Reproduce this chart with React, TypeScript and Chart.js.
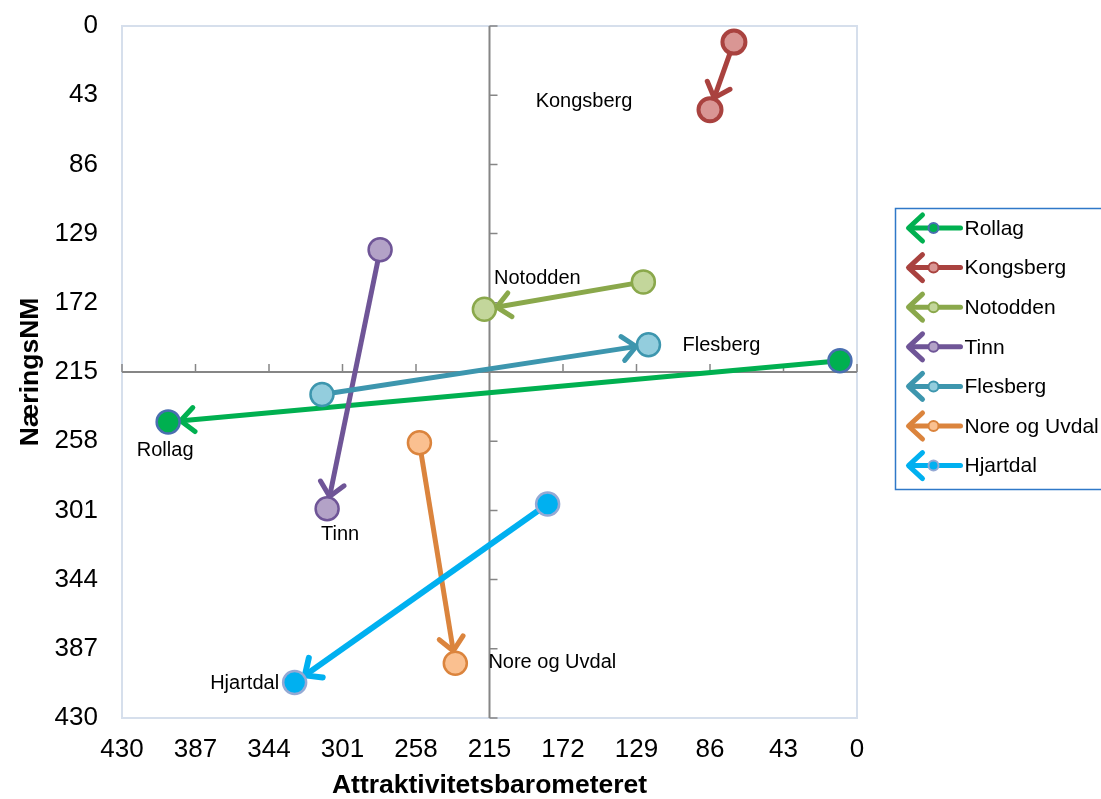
import React, { useEffect, useRef } from 'react';
import { Chart, registerables } from 'chart.js';

Chart.register(...registerables);

// ---- data ----
const municipalities = ['Rollag', 'Kongsberg', 'Notodden', 'Tinn', 'Flesberg', 'Nore og Uvdal', 'Hjartdal'];
const startX = [10, 72, 125, 279, 313, 256, 181];
const startY = [208, 10, 159, 139, 229, 259, 297];
const endX = [403, 86, 218, 310, 122, 235, 329];
const endY = [246, 52, 176, 300, 198, 396, 408];
const tickValues = [0, 43, 86, 129, 172, 215, 258, 301, 344, 387, 430];
const axisMin = 0;
const axisMax = 430;
const axisMid = 215;
const xTitle = 'Attraktivitetsbarometeret';
const yTitle = 'NæringsNM';

// ---- styles ----
const lineColors = ['#00B050', '#A9423F', '#8AA84B', '#6F5597', '#3D96AE', '#DB843D', '#00B0F0'];
const markerFills = ['#00B050', '#D99694', '#C3D69B', '#B3A2C7', '#93CDDD', '#FAC090', '#00B0F0'];
const markerBorders = ['#4A6FB0', '#A9423F', '#8AA84B', '#6F5597', '#3D96AE', '#DB843D', '#95A9D4'];
const markerBorderWidths = [2.5, 4, 2.5, 2.5, 2.5, 2.5, 2.5];
const lineWidths = [5, 5, 5, 5, 5, 5, 6];
const labelOffsets = [[-3, 29], [-126, -8], [53, -31], [13, 26], [73, 1], [97, -1], [-50, 1]];
const FONT = '"Liberation Sans", Arial, Helvetica, sans-serif';

const frameAndAxesPlugin = {
  id: 'frameAndAxes',
  beforeDatasetsDraw(chart: any) {
    const { ctx, chartArea } = chart;
    const xs = chart.scales.x;
    const ys = chart.scales.y;
    ctx.save();
    ctx.strokeStyle = '#D6DFEC';
    ctx.lineWidth = 2;
    ctx.strokeRect(chartArea.left, chartArea.top, chartArea.right - chartArea.left, chartArea.bottom - chartArea.top);
    const cx = xs.getPixelForValue(axisMid);
    const cy = ys.getPixelForValue(axisMid);
    ctx.strokeStyle = '#868686';
    ctx.lineWidth = 2;
    ctx.beginPath();
    ctx.moveTo(cx, chartArea.top);
    ctx.lineTo(cx, chartArea.bottom);
    ctx.moveTo(chartArea.left, cy);
    ctx.lineTo(chartArea.right, cy);
    ctx.stroke();
    ctx.lineWidth = 1.5;
    ctx.beginPath();
    tickValues.forEach((v) => {
      const py = ys.getPixelForValue(v);
      ctx.moveTo(cx, py);
      ctx.lineTo(cx + 8, py);
      const px = xs.getPixelForValue(v);
      ctx.moveTo(px, cy);
      ctx.lineTo(px, cy - 8);
    });
    ctx.stroke();
    ctx.restore();
  },
};

const arrowPlugin = {
  id: 'arrowheads',
  beforeDatasetDraw(chart: any, args: any) {
    const i = args.index;
    const meta = args.meta;
    const p0 = meta.data[0];
    const p1 = meta.data[1];
    if (!p0 || !p1) return;
    const ctx = chart.ctx;
    const dx = p1.x - p0.x;
    const dy = p1.y - p0.y;
    const len = Math.hypot(dx, dy) || 1;
    const ux = dx / len;
    const uy = dy / len;
    const r = 12.5;
    const tx = p1.x - ux * r;
    const ty = p1.y - uy * r;
    const L = 18;
    const ang = (42 * Math.PI) / 180;
    const bx = -ux;
    const by = -uy;
    const rot = (a: number) => [bx * Math.cos(a) - by * Math.sin(a), bx * Math.sin(a) + by * Math.cos(a)];
    const a1 = rot(ang);
    const a2 = rot(-ang);
    ctx.save();
    ctx.strokeStyle = lineColors[i];
    ctx.lineWidth = lineWidths[i];
    ctx.lineCap = 'round';
    ctx.lineJoin = 'round';
    ctx.beginPath();
    ctx.moveTo(tx + a1[0] * L, ty + a1[1] * L);
    ctx.lineTo(tx, ty);
    ctx.lineTo(tx + a2[0] * L, ty + a2[1] * L);
    ctx.stroke();
    ctx.restore();
  },
};

const labelsAndLegendPlugin = {
  id: 'labelsAndLegend',
  afterDatasetsDraw(chart: any) {
    const ctx = chart.ctx;
    ctx.save();
    ctx.font = `20px ${FONT}`;
    ctx.fillStyle = '#000000';
    ctx.textAlign = 'center';
    ctx.textBaseline = 'middle';
    municipalities.forEach((name, i) => {
      const meta = chart.getDatasetMeta(i);
      const p1 = meta.data[1];
      if (!p1) return;
      ctx.fillText(name, p1.x + labelOffsets[i][0], p1.y + labelOffsets[i][1]);
    });
    ctx.restore();
  },
  afterDraw(chart: any) {
    const ctx = chart.ctx;
    const area = chart.chartArea;
    const boxLeft = area.right + 38.5;
    const boxTop = 208.5;
    ctx.save();
    ctx.strokeStyle = '#2F78C8';
    ctx.lineWidth = 1.5;
    ctx.strokeRect(boxLeft, boxTop, 240, 281);
    const rowStart = 228;
    const rowStep = 39.6;
    municipalities.forEach((name, i) => {
      const y = rowStart + i * rowStep;
      const tipX = boxLeft + 13;
      ctx.strokeStyle = lineColors[i];
      ctx.lineWidth = 5;
      ctx.lineCap = 'round';
      ctx.lineJoin = 'round';
      ctx.beginPath();
      ctx.moveTo(tipX + 4, y);
      ctx.lineTo(tipX + 52, y);
      ctx.stroke();
      ctx.beginPath();
      ctx.moveTo(tipX + 14, y - 13);
      ctx.lineTo(tipX, y);
      ctx.lineTo(tipX + 14, y + 13);
      ctx.stroke();
      ctx.beginPath();
      ctx.arc(tipX + 25, y, 5, 0, Math.PI * 2);
      ctx.fillStyle = markerFills[i];
      ctx.fill();
      ctx.lineWidth = 2;
      ctx.strokeStyle = markerBorders[i];
      ctx.stroke();
      ctx.fillStyle = '#000000';
      ctx.font = `21px ${FONT}`;
      ctx.textAlign = 'left';
      ctx.textBaseline = 'middle';
      ctx.fillText(name, tipX + 56, y + 1);
    });
    ctx.restore();
  },
};

export default function App() {
  const canvasRef = useRef<HTMLCanvasElement | null>(null);

  useEffect(() => {
    if (!canvasRef.current) return;
    const datasets = municipalities.map((name, i) => ({
      label: name,
      data: [
        { x: startX[i], y: startY[i] },
        { x: endX[i], y: endY[i] },
      ],
      showLine: true,
      borderColor: lineColors[i],
      borderWidth: lineWidths[i],
      backgroundColor: markerFills[i],
      pointBackgroundColor: markerFills[i],
      pointBorderColor: markerBorders[i],
      pointBorderWidth: markerBorderWidths[i],
      pointRadius: 11.5,
      pointHoverRadius: 11.5,
      order: municipalities.length - i,
    }));

    const tickFont = { family: FONT, size: 26 };
    const titleFont = { family: FONT, size: 26.5, weight: 'bold' as const, lineHeight: 1 };

    const chart = new Chart(canvasRef.current, {
      type: 'scatter',
      data: { datasets },
      options: {
        animation: false,
        responsive: true,
        maintainAspectRatio: false,
        events: [],
        layout: { padding: { top: 26, right: 244, bottom: 0, left: 0 } },
        plugins: {
          legend: { display: false },
          tooltip: { enabled: false },
        },
        scales: {
          x: {
            type: 'linear',
            reverse: true,
            min: axisMin,
            max: axisMax,
            afterBuildTicks: (s: any) => {
              s.ticks = tickValues.map((v) => ({ value: v }));
            },
            afterFit: (s: any) => {
              s.height = 81;
              s.paddingLeft = 0;
              s.paddingRight = 0;
            },
            grid: { display: false, drawTicks: false },
            border: { display: false },
            ticks: {
              font: tickFont,
              color: '#000000',
              padding: 16,
              maxRotation: 0,
              autoSkip: false,
              callback: (v: any) => String(v),
            },
            title: {
              display: true,
              text: xTitle,
              font: titleFont,
              color: '#000000',
              padding: { top: 0, bottom: 0 },
            },
          },
          y: {
            type: 'linear',
            reverse: true,
            min: axisMin,
            max: axisMax,
            afterBuildTicks: (s: any) => {
              s.ticks = tickValues.map((v) => ({ value: v }));
            },
            afterFit: (s: any) => {
              s.width = 122;
              s.paddingTop = 0;
              s.paddingBottom = 0;
            },
            grid: { display: false, drawTicks: false },
            border: { display: false },
            ticks: {
              font: tickFont,
              color: '#000000',
              padding: 24,
              autoSkip: false,
              callback: (v: any) => String(v),
            },
            title: {
              display: true,
              text: yTitle,
              font: titleFont,
              color: '#000000',
              padding: { top: 17, bottom: 0 },
            },
          },
        },
      },
      plugins: [frameAndAxesPlugin, arrowPlugin, labelsAndLegendPlugin],
    } as any);

    return () => {
      chart.destroy();
    };
  }, []);

  return (
    <div style={{ position: 'fixed', left: 0, top: 0, width: 1101, height: 799, background: '#ffffff' }}>
      <canvas ref={canvasRef} />
    </div>
  );
}
